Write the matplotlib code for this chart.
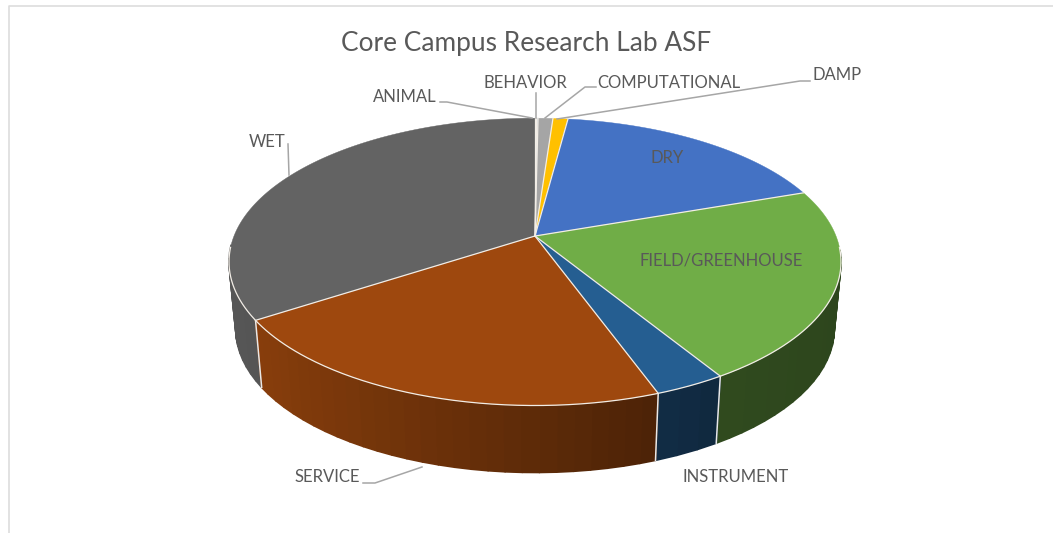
import numpy as np
import matplotlib
matplotlib.use('Agg')
from matplotlib import pyplot as plt
from matplotlib.collections import PolyCollection
from matplotlib.colors import to_rgb

categories = ['ANIMAL', 'BEHAVIOR', 'COMPUTATIONAL', 'DAMP', 'DRY',
              'FIELD/GREENHOUSE', 'INSTRUMENT', 'SERVICE', 'WET']
shares = [0.10, 0.09, 0.93, 0.94, 17.6, 21.6, 3.2, 21.3, 34.2]
colors = ['#BDD7EE', '#BDD7EE', '#A5A5A5', '#FFC000', '#4472C4',
          '#70AD47', '#255E91', '#9E480E', '#636363']

# layout, pixels of the image
CX, CY = 535, 236
A, B, K = 139.0, 301.0, 0.18
DROP, SHRINK = 67, 0.978
TEXT = '#595959'
LEAD = '#A6A6A6'
SEAM = '#F2EDE6'

plt.rcParams['font.family'] = ['Lato', 'DejaVu Sans']

fig = plt.figure(figsize=(10.53, 5.33), dpi=100)
ax = fig.add_axes([0, 0, 1, 1])
ax.set_xlim(0, 1053)
ax.set_ylim(533, 0)
ax.axis('off')


def rim(theta):
    # perspective projection of the disc, theta clockwise from 12 o'clock
    x, y = np.sin(theta), np.cos(theta)
    w = 1 + K * y
    return CX + B * x / w, CY - A * y / w


def wall_shade(theta):
    return np.interp(np.sin(theta), [-1, -0.8, 0.5, 1], [0.88, 0.85, 0.43, 0.40])


edges = np.cumsum([0] + shares) / np.sum(shares) * 2 * np.pi

# side wall, in bands, front half only
quads, quad_cols = [], []
for i in range(len(shares)):
    t = np.linspace(edges[i], edges[i + 1], max(2, int((edges[i + 1] - edges[i]) * 22)))
    px, py = rim(t)
    bx, by = CX + (px - CX) * SHRINK, py + DROP
    base = np.array(to_rgb(colors[i]))
    for j in range(len(t) - 1):
        mid = (t[j] + t[j + 1]) / 2
        if np.cos(mid) > -0.08:
            continue
        quads.append([(px[j], py[j]), (px[j + 1], py[j + 1]), (bx[j + 1], by[j + 1]), (bx[j], by[j])])
        quad_cols.append(base * wall_shade(mid))
order = np.argsort([q[0][1] for q in quads])
ax.add_collection(PolyCollection([quads[i] for i in order],
                                 facecolors=[quad_cols[i] for i in order],
                                 edgecolors=[quad_cols[i] for i in order], linewidths=1.2))

# seams on the wall
for e in edges:
    if np.cos(e) < 0:
        px, py = rim(e)
        ax.plot([px, CX + (px - CX) * SHRINK], [py, py + DROP], color='#E8E8E8', lw=1.1, zorder=3)

# top face
for i in range(len(shares)):
    t = np.linspace(edges[i], edges[i + 1], 200)
    px, py = rim(t)
    ax.fill(np.r_[CX, px], np.r_[CY, py], facecolor=colors[i], edgecolor=colors[i], lw=0.3, zorder=4)

# white spokes, and the rim only where it sits on the wall
for e in edges[:-1]:
    px, py = rim(e)
    ax.plot([CX, px], [CY, py], color=SEAM, lw=0.9, zorder=4.5)
t = np.linspace(0, 2 * np.pi, 720)
t = t[np.cos(t) < -0.08]
px, py = rim(t)
ax.plot(px, py, color=SEAM, lw=0.9, zorder=4.5)

# leader lines
leaders = [
    ([440, 447, 532], [102, 102, 118]),
    ([536, 536], [93, 118]),
    ([596, 585, 545], [87, 87, 118]),
    ([810, 800, 557], [81, 81, 119]),
    ([288, 289], [144, 175]),
    ([363, 375, 422], [483, 483, 467]),
]
for lx, ly in leaders:
    ax.plot(lx, ly, color=LEAD, lw=1.1, zorder=5)

# labels
label_x = [405, 525, 669, 837, 667, 721, 736, 327, 267]
label_y = [97, 83, 83, 75, 158, 261, 477, 477, 142]
for name, x, y in zip(categories, label_x, label_y):
    ax.text(x, y, name, color=TEXT, fontsize=12, ha='center', va='center', zorder=6)

ax.text(526, 43, 'Core Campus Research Lab ASF', color=TEXT, fontsize=18.9,
        ha='center', va='center', zorder=6)

# chart frame, cut off by the picture
ax.plot([9, 9, 1053], [533, 5.5, 5.5], color='#DDDDDD', lw=1.2)

fig.savefig('out.png', dpi=100)
